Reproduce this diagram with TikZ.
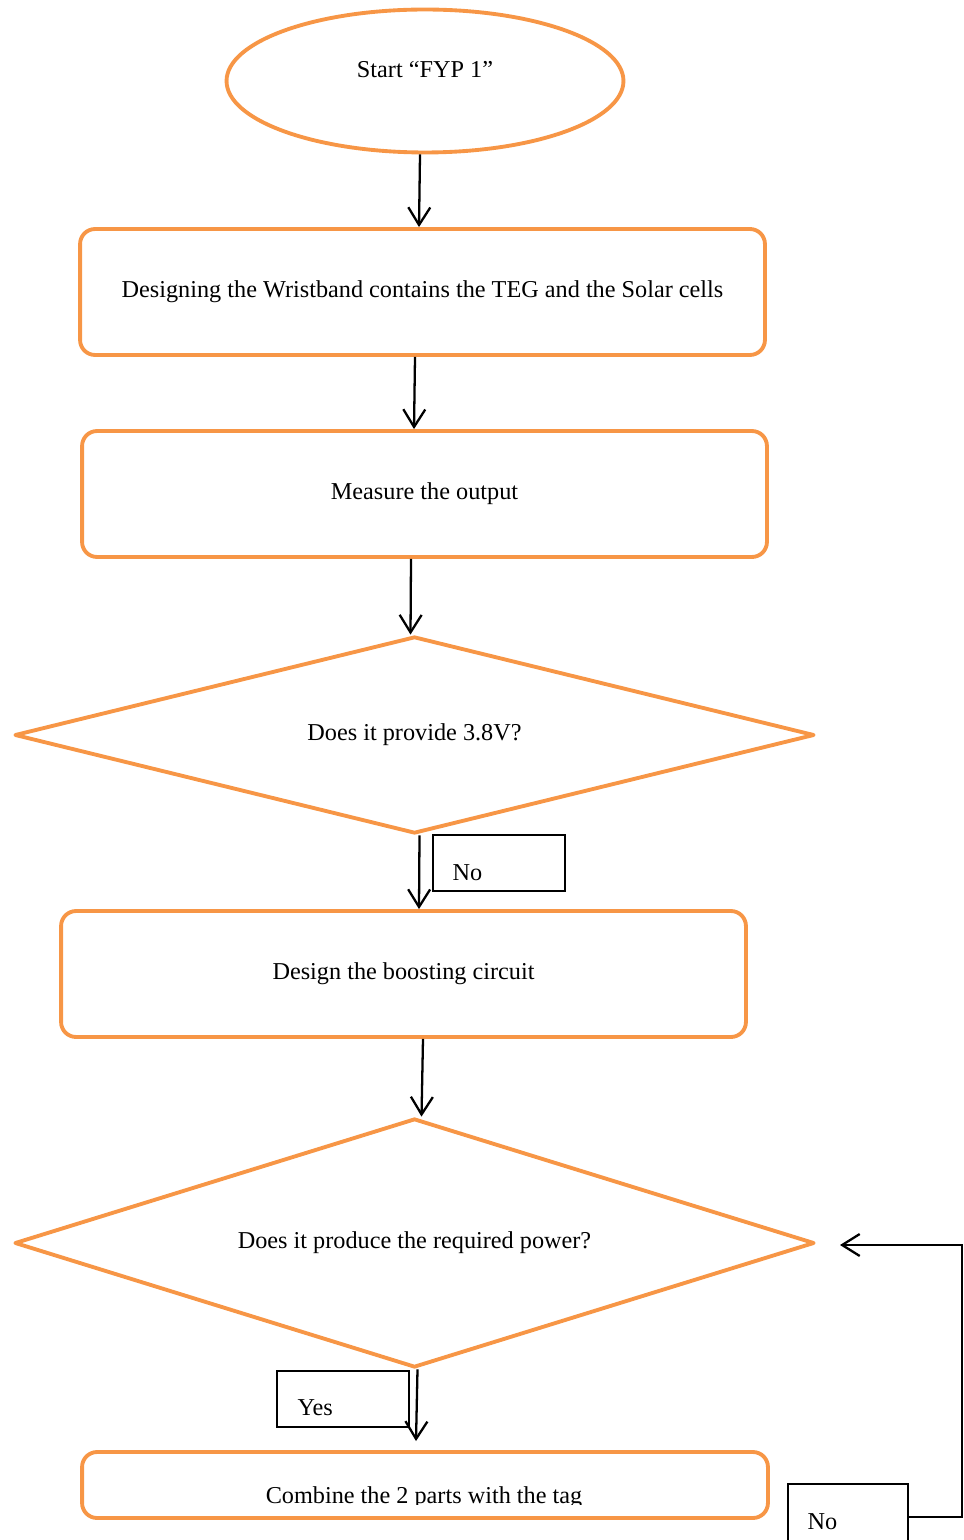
\documentclass[tikz,border=0pt]{standalone}
\usepackage{fontspec}
\setmainfont{Liberation Serif}
\usetikzlibrary{shapes.geometric,arrows.meta}
\definecolor{fyporange}{RGB}{247,150,70}

\begin{document}
\begin{tikzpicture}[x=0.02cm,y=-0.02cm,
    font=\fontsize{13.8}{16}\selectfont,
    stepbox/.style={draw=fyporange,line width=2.2pt,rounded corners=0.3cm,
      minimum width=13.7cm,minimum height=2.52cm},
    decision/.style={draw=fyporange,line width=2.2pt,line join=round,diamond,
      inner sep=0pt,minimum width=16cm},
    tagbox/.style={draw,line width=0.9pt,minimum width=2.64cm,minimum height=1.12cm},
    tagtext/.style={anchor=base west,inner sep=0pt},
    flow/.style={line width=1.3pt,-{Straight Barb[length=10pt,width=12.5pt]}}]
  \useasboundingbox (0,0) rectangle (963,1540);
  \clip (0,0) rectangle (963,1540);
  % start
  \node[draw=fyporange,line width=2.2pt,ellipse,minimum width=7.94cm,
    minimum height=2.86cm] (start) at (425,81) {};
  \node (starttext) at (425,70) {Start “FYP 1”};
  % steps and decisions
  \node[stepbox] (design) at (422.5,292)
    {Designing the Wristband contains the TEG and the Solar cells};
  \node[stepbox] (measure) at (424.5,494) {Measure the output};
  \node[decision,minimum height=3.94cm,aspect=4] (check1) at (414.5,735)
    {Does it provide 3.8V?};
  \node[stepbox] (boost) at (403.5,974) {Design the boosting circuit};
  \node[decision,minimum height=4.98cm,aspect=3.2] (check2) at (414.5,1243)
    {Does it produce the required power?};
  \node[stepbox,minimum width=13.72cm,minimum height=1.32cm] (combine) at (425,1485) {};
  \begin{scope}
    \clip (82,1452) rectangle (768,1504);
    \node[anchor=base] (combinetext) at (424,1503) {Combine the 2 parts with the tag};
  \end{scope}
  % answer boxes
  \node[tagbox] (noA) at (499,863) {};
  \node[tagtext] (noAtext) at ([xshift=0.4cm,yshift=-0.92cm]noA.north west) {No};
  \node[tagbox] (yes) at (343,1399) {};
  \node[tagtext] (yestext) at ([xshift=0.42cm,yshift=-0.9cm]yes.north west) {Yes};
  \node[tagbox,minimum width=2.4cm,minimum height=1.32cm] (noB) at (848,1517) {};
  \node[tagtext] (noBtext) at ([xshift=0.4cm,yshift=-0.92cm]noB.north west) {No};
  % arrows
  \draw[flow] ([xshift=-0.1cm]start.south) -- ([xshift=-0.07cm]design.north);
  \draw[flow] ([xshift=-0.15cm]design.south) -- ([xshift=-0.21cm]measure.north);
  \draw[flow] ([xshift=-0.27cm]measure.south) -- ([xshift=-0.08cm]check1.north);
  \draw[flow] ([xshift=0.1cm]check1.south) -- ([xshift=0.31cm]boost.north);
  \draw[flow] ([xshift=0.39cm]boost.south) -- ([xshift=0.14cm]check2.north);
  \draw[flow] ([xshift=0.06cm]check2.south) -- ([xshift=-0.18cm,yshift=0.18cm]combine.north);
  % loop back
  \coordinate (loopcorner) at (962,1517);
  \coordinate (loopend) at (840,1245);
  \draw[flow] (noB.east) -- (loopcorner) |- (loopend);
\end{tikzpicture}
\end{document}
